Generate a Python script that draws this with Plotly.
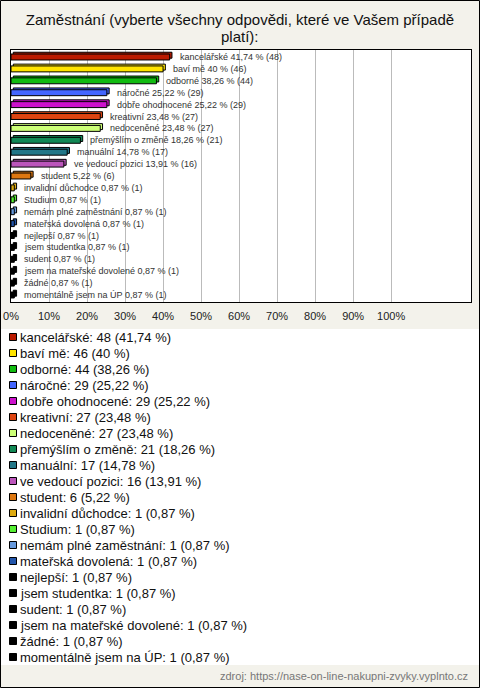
import plotly.graph_objects as go

W, H = 480, 688

categories = [
    "kancelářské", "baví mě", "odborné", "náročné", "dobře ohodnocené",
    "kreativní", "nedoceněné", "přemýšlím o změně", "manuální",
    "ve vedoucí pozici", "student", "invalidní důchodce", "Studium",
    "nemám plné zaměstnání", "mateřská dovolená", "nejlepší",
    "jsem studentka", "sudent", "jsem na mateřské dovolené", "žádné",
    "momentálně jsem na ÚP",
]
counts = [48, 46, 44, 29, 29, 27, 27, 21, 17, 16, 6, 1, 1, 1, 1, 1, 1, 1, 1, 1, 1]
percents = [41.74, 40, 38.26, 25.22, 25.22, 23.48, 23.48, 18.26, 14.78, 13.91,
            5.22, 0.87, 0.87, 0.87, 0.87, 0.87, 0.87, 0.87, 0.87, 0.87, 0.87]
colors = [
    "#BB1A00", "#FFE400", "#11BB11", "#4466FF", "#CC11CC", "#DD4411",
    "#CCFF77", "#118855", "#227788", "#BB55BB", "#DD7711", "#DDAA11",
    "#55EE33", "#6699DD", "#2255AA", "#000000", "#000000", "#000000",
    "#000000", "#000000", "#000000",
]
tick_vals = [0, 10, 20, 30, 40, 50, 60, 70, 80, 90, 100]
tick_text = ["0%", "10%", "20%", "30%", "40%", "50%", "60%", "70%", "80%", "90%", "100%"]

title_line1 = "Zaměstnání (vyberte všechny odpovědi, které ve Vašem případě"
title_line2 = "platí):"
source_text = "zdroj: https://nase-on-line-nakupni-zvyky.vyplnto.cz"

DEPTH = 0.6      # 3D depth of bars, in axis units (style)
BAR_W = 0.5
LIFT = 0.15


def pct_str(p):
    return f"{p:g}".replace(".", ",")


bar_labels = [f"{c} {pct_str(p)} % ({n})" for c, p, n in zip(categories, percents, counts)]
legend_labels = [f"{c}: {n} ({pct_str(p)} %)" for c, p, n in zip(categories, percents, counts)]


def px_x(px):
    return px / W


def px_y(py):
    return 1 - py / H


fig = go.Figure()

# back face (pseudo 3D extrusion)
fig.add_trace(go.Bar(
    x=percents, y=categories, orientation="h", base=DEPTH,
    marker=dict(color=colors, line=dict(color="#000000", width=1)),
    width=BAR_W, offset=-BAR_W / 2 - LIFT,
    showlegend=False, hoverinfo="skip", xaxis="x", yaxis="y",
))
# front face
fig.add_trace(go.Bar(
    x=percents, y=categories, orientation="h",
    marker=dict(color=colors, line=dict(color="#000000", width=1)),
    width=BAR_W, offset=-BAR_W / 2,
    showlegend=False, hoverinfo="skip", xaxis="x", yaxis="y",
))

# legend-like list below the chart: coloured squares
idx = list(range(len(categories)))
fig.add_trace(go.Scatter(
    x=[13] * len(categories), y=idx, mode="markers",
    marker=dict(symbol="square", size=7, color=colors,
                line=dict(color="#000000", width=1)),
    showlegend=False, hoverinfo="skip", cliponaxis=False,
    xaxis="x2", yaxis="y2",
))

annotations = []
for c, p, lab in zip(categories, percents, bar_labels):
    annotations.append(dict(
        x=p, y=c, xref="x", yref="y", text=lab, showarrow=False,
        xanchor="left", yanchor="middle", xshift=8,
        font=dict(family="Arial", size=9, color="#333333"),
    ))

for i, lab in zip(idx, legend_labels):
    annotations.append(dict(
        x=19, y=i, xref="x2", yref="y2", text=lab, showarrow=False,
        xanchor="left", yanchor="middle", borderpad=0,
        font=dict(family="Arial", size=13, color="#111111"),
    ))

annotations.append(dict(
    x=0.5, y=px_y(37), xref="paper", yref="paper", text=title_line2,
    showarrow=False, xanchor="center", yanchor="middle",
    font=dict(family="Arial", size=15, color="#111111"),
))
annotations.append(dict(
    x=px_x(470), y=px_y(676), xref="paper", yref="paper", text=source_text,
    showarrow=False, xanchor="right", yanchor="middle",
    font=dict(family="Arial", size=11, color="#777777"),
))

fig.update_layout(
    width=W, height=H,
    margin=dict(l=0, r=0, t=0, b=0, pad=0, autoexpand=False),
    showlegend=False,
    barmode="overlay",
    paper_bgcolor="#F3F2EB",
    plot_bgcolor="#FFFFFF",
    title=dict(text=title_line1, x=0.5, xanchor="center", y=px_y(19.5),
               yanchor="middle", yref="paper", automargin=False,
               font=dict(family="Arial", size=15, color="#111111")),
    xaxis=dict(domain=[px_x(11), px_x(471)], range=[0, 121],
               tickvals=tick_vals, ticktext=tick_text, automargin=False,
               showgrid=True, gridcolor="#BBBBBB", gridwidth=1,
               zeroline=False, showline=True, linecolor="#000000",
               linewidth=1, mirror=True, ticks="", ticklabelstandoff=4,
               tickfont=dict(family="Arial", size=11, color="#222222"),
               fixedrange=True),
    yaxis=dict(domain=[px_y(302), px_y(50)], autorange="reversed",
               categoryorder="array", categoryarray=categories,
               showticklabels=False, showgrid=False, zeroline=False,
               showline=True, linecolor="#000000", linewidth=1, mirror=True,
               ticks="", fixedrange=True, automargin=False),
    xaxis2=dict(domain=[0, 1], range=[0, W], visible=False, fixedrange=True,
                automargin=False),
    yaxis2=dict(domain=[px_y(665), px_y(329)], range=[20.5, -0.5],
                visible=False, fixedrange=True, automargin=False),
    annotations=annotations,
    shapes=[dict(type="rect", xref="paper", yref="paper",
                 x0=px_x(0.5), x1=px_x(W - 0.5), y0=px_y(H - 0.5), y1=px_y(0.5),
                 line=dict(color="#000000", width=1), layer="above")],
)

fig.write_html(
    "out.html",
    config={"displayModeBar": False},
    post_script="document.body.style.margin='0';document.body.style.padding='0';"
                "document.documentElement.style.overflow='hidden';",
)
